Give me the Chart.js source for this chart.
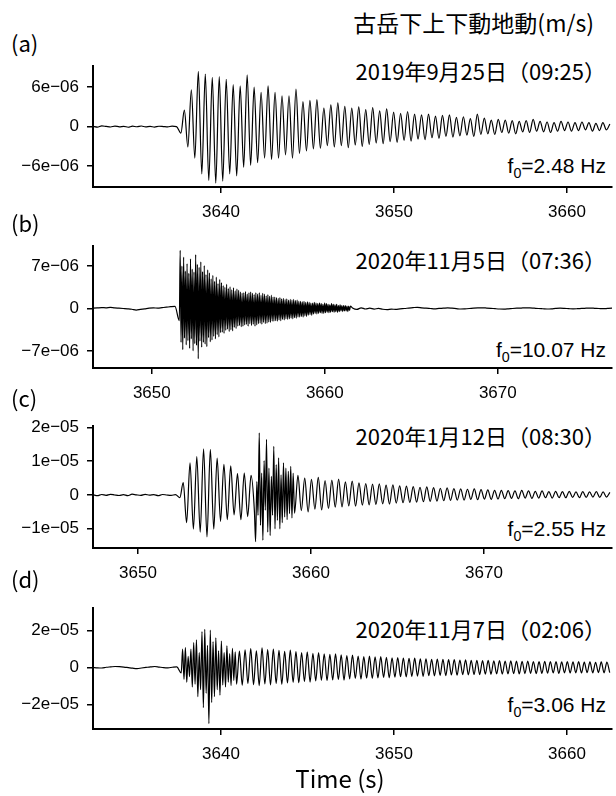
<!DOCTYPE html>
<html lang="ja">
<head>
<meta charset="utf-8">
<title>古岳下上下動地動</title>
<script src="https://cdn.jsdelivr.net/npm/chart.js@4.4.1/dist/chart.umd.min.js"></script>
<style>
  body { margin: 0; background: #fff; }
  #fig { position: relative; width: 616px; height: 796px; overflow: hidden; }
  canvas { position: absolute; left: 0; }
  .txt { position: absolute; white-space: nowrap; color: #000; line-height: 1; transform: translateY(-50%); }
  .jp { font-family: 'Noto Sans CJK JP', sans-serif; }
  .lat { font-family: 'Liberation Sans', Arial, sans-serif; }
  .r { right: 10px; }
  sub { font-size: 0.68em; vertical-align: -0.4em; line-height: 0; }
</style>
</head>
<body>
<div id="fig">
  <div class="txt jp" style="right:22px; top:22px; font-size:23px;">古岳下上下動地動(m/s)</div>

  <div class="txt jp" style="left:11px; top:42px; font-size:22px;">(a)</div>
  <div class="txt jp r" style="top:70px; font-size:22px;">2019年9月25日（09:25）</div>
  <div class="txt lat r" style="top:165px; font-size:21px;">f<sub>0</sub>=2.48 Hz</div>
  <canvas id="chartA" width="616" height="179" style="top:48px"></canvas>

  <div class="txt jp" style="left:11px; top:222px; font-size:22px;">(b)</div>
  <div class="txt jp r" style="top:259px; font-size:22px;">2020年11月5日（07:36）</div>
  <div class="txt lat r" style="top:349px; font-size:21px;">f<sub>0</sub>=10.07 Hz</div>
  <canvas id="chartB" width="616" height="180" style="top:228px"></canvas>

  <div class="txt jp" style="left:11px; top:397px; font-size:22px;">(c)</div>
  <div class="txt jp r" style="top:435px; font-size:22px;">2020年1月12日（08:30）</div>
  <div class="txt lat r" style="top:528px; font-size:21px;">f<sub>0</sub>=2.55 Hz</div>
  <canvas id="chartC" width="616" height="180" style="top:408px"></canvas>

  <div class="txt jp" style="left:11px; top:578px; font-size:22px;">(d)</div>
  <div class="txt jp r" style="top:628px; font-size:22px;">2020年11月7日（02:06）</div>
  <div class="txt lat r" style="top:704px; font-size:21px;">f<sub>0</sub>=3.06 Hz</div>
  <canvas id="chartD" width="616" height="179" style="top:590px"></canvas>

  <div class="txt jp" style="left:340px; top:778px; font-size:24px; transform:translate(-50%,-50%);">Time (s)</div>
</div>

<script>
// amplitudes are in 1e-6 m/s; swings are alternating extremes, one per half period

// (a) 2019-09-25, f0 = 2.48 Hz
const aTicksX = [3640, 3650, 3660];
const aTicksY = [-6e-6, 0, 6e-6];
const aLabelsY = ['−6e−06', '0', '6e−06'];
const aStart = 3632.6;
const aOnset = 3637.68;
const aHalf = 0.2016;
const aNoise = [0.05, -0.08, 0.10, 0.02, -0.06, 0.08, -0.03, 0.04, -0.10, 0.06,
  -0.02, 0.09, -0.05, 0.03, -0.07, 0.05, 0.01, -0.04, 0.07, 0.0];
const aSwing = [-1.0, 2.5, -3.1, 5.6, -4.8, 8.4, -7.2, 8.0, -8.2, 7.5,
  -8.6, 7.6, -8.3, 7.2, -7.2, 6.4, -7.5, 6.2, -6.2, 7.9,
  -5.9, 6.0, -5.5, 5.2, -4.8, 6.2, -5.0, 5.2, -4.8, 4.7,
  -4.3, 4.7, -4.8, 5.7, -4.1, 3.8, -3.7, 4.0, -3.4, 4.1,
  -3.3, 2.8, -2.9, 3.3, -3.1, 3.6, -2.9, 3.1, -3.2, 2.8,
  -2.8, 3.0, -3.0, 2.6, -2.7, 2.9, -2.5, 2.4, -2.6, 2.7,
  -2.3, 2.2, -2.4, 2.0, -2.1, 2.3, -2.2, 1.9, -1.9, 1.8,
  -2.0, 1.9, -1.7, 1.6, -1.8, 1.7, -1.5, 1.8, -1.6, 1.4,
  -1.4, 1.5, -1.3, 1.2, -1.5, 1.9, -1.2, 1.3, -1.1, 1.0,
  -1.2, 1.1, -0.9, 1.0, -1.0, 0.9, -1.1, 0.8, -0.8, 0.9,
  -0.9, 1.1, -0.7, 0.8, -0.8, 0.7, -0.9, 0.6, -0.7, 0.8,
  -0.6, 0.7, -0.7, 0.6, -0.6, 0.7, -0.5, 0.6, -0.7, 0.5,
  -0.6, 0.6, -0.5, 0.4];

// (b) 2020-11-05, f0 = 10.07 Hz
const bTicksX = [3650, 3660, 3670];
const bTicksY = [-7e-6, 0, 7e-6];
const bLabelsY = ['−7e−06', '0', '7e−06'];
const bStart = 3646.6;
const bOnset = 3651.59;
const bHalf = 0.0497;
const bNoise = [0.05, 0.10, 0.15, 0.12, 0.18, 0.10, 0.05, 0.0, -0.05, -0.12,
  -0.25, -0.15, -0.05, 0.05, 0.10, 0.08, 0.15, 0.22, 0.30, 0.35];
const bSwing = [
  -2.0, 9.6, -5.6, 7.0, -6.8, 8.5, -4.9, 6.2, -6.0, 7.4,
  -5.3, 5.8, -6.6, 8.2, -5.0, 6.5, -7.0, 6.0, -5.8, 8.9,
  -6.1, 7.3, -8.3, 6.8, -5.4, 7.7, -6.4, 6.1, -5.6, 7.1,
  -5.9, 5.6, -6.3, 6.4, -4.8, 5.9, -5.5, 4.9, -5.2, 5.5,
  -4.6, 4.5, -5.0, 5.2, -4.3, 4.1, -4.7, 4.8, -4.0, 4.3,
  -3.9, 3.8, -4.1, 3.5, -3.6, 4.0, -3.4, 3.3, -3.8, 3.6,
  -3.5, 3.1, -3.7, 3.4, -3.1, 2.9, -3.3, 3.2, -2.9, 3.0,
  -2.8, 2.7, -3.0, 2.5, -2.9, 2.6, -2.7, 2.8, -2.6, 2.4,
  -2.9, 2.6, -2.5, 2.7, -2.8, 2.5, -2.6, 2.3, -2.9, 2.6,
  -2.7, 2.4, -2.5, 2.6, -2.4, 2.2, -2.6, 2.5, -2.3, 2.4,
  -2.5, 2.1, -2.4, 2.3, -2.2, 2.0, -2.3, 2.2, -2.1, 1.9,
  -2.1, 1.9, -2.0, 1.8, -2.1, 1.7, -1.9, 1.8, -2.0, 1.6,
  -1.8, 1.7, -1.9, 1.5, -1.7, 1.6, -1.8, 1.4, -1.7, 1.5,
  -1.6, 1.4, -1.7, 1.5, -1.5, 1.3, -1.6, 1.4, -1.4, 1.2,
  -1.4, 1.2, -1.3, 1.1, -1.4, 1.2, -1.2, 1.0, -1.3, 1.1,
  -1.1, 1.0, -1.0, 0.9, -1.1, 0.9, -0.9, 1.0, -0.8, 0.9,
  -0.9, 0.8, -0.8, 0.9, -0.7, 0.8, -0.8, 0.7, -0.8, 0.9,
  -0.7, 0.8, -0.6, 0.7, -0.7, 0.6, -0.6, 0.8, -0.5, 0.7,
  -0.6, 0.6, -0.5, 0.7, -0.6, 0.5, -0.5, 0.6, -0.4, 0.5,
  -0.5, 0.5, -0.4, 0.5, -0.4, 0.4, -0.5, 0.4, -0.3, 0.4];
const bTailStart = 3661.6;
const bTail = [0.10, -0.15, 0.12, -0.08, 0.05, -0.10, 0.02, -0.12, -0.18, -0.10,
  -0.15, -0.05, 0.0, 0.08, 0.15, 0.20, 0.12, 0.05, 0.0, -0.05,
  0.02, 0.05, 0.10, 0.05, -0.02, -0.08, -0.05, 0.0, 0.06, 0.10,
  0.12, 0.08, 0.03, -0.03, -0.08, -0.10, -0.06, 0.0, 0.05, 0.08,
  0.12, 0.10, 0.05, 0.0, -0.04, -0.08, -0.05, 0.02, 0.06, 0.03,
  -0.02, -0.06, -0.03, 0.02, 0.05, 0.08, 0.04, 0.0, -0.03, 0.02,
  0.05, 0.03];

// (c) 2020-01-12, f0 = 2.55 Hz, two arrivals
const cTicksX = [3650, 3660, 3670];
const cTicksY = [-1e-5, 0, 1e-5, 2e-5];
const cLabelsY = ['−1e−05', '0', '1e−05', '2e−05'];
const cStart = 3647.4;
const cOnset = 3652.42;
const cHalf = 0.196;
const cNoise = [0.1, -0.2, 0.15, -0.1, 0.2, 0.0, -0.15, 0.1, -0.2, 0.25,
  0.05, -0.1, 0.2, -0.05, 0.1, -0.2, 0.15, 0.0, -0.1, 0.1];
const cSwing = [-0.8, 3.7, -8.2, 9.5, -10.1, 11.4, -11.0, 13.7, -12.4, 13.5,
  -10.1, 10.9, -7.8, 9.1, -7.3, 8.6, -5.9, 6.3, -7.3, 6.5,
  -6.4, 5.8, -5.0];
const cBurstStart = 3656.8;
const cBurstHalf = 0.07;
const cBurst = [-13.8, 4.0, -6.0, 18.4, -9.0, 6.5, -13.4, 10.2, -4.5, 16.5,
  -11.0, 8.0, -12.0, 5.5, -6.0, 14.4, -10.0, 9.0, -7.5, 11.0,
  -10.0, 6.0, -8.2, 9.5, -6.5, 8.0, -7.3, 7.0, -5.5, 8.5,
  -6.8, 6.4];
const cCodaStart = 3659.05;
const cCoda = [-5.4, 5.8, -4.6, 5.0, -5.0, 4.6, -4.2, 5.2, -4.4, 4.3,
  -4.0, 4.4, -3.6, 4.7, -3.5, 3.9, -3.2, 4.1, -3.3, 3.6,
  -3.0, 3.4, -2.9, 3.2, -2.8, 3.3, -2.6, 2.9, -2.7, 3.0,
  -2.4, 2.7, -2.3, 2.6, -2.2, 2.5, -2.1, 2.3, -2.0, 2.4,
  -1.9, 2.2, -1.8, 2.0, -1.7, 2.1, -1.6, 1.9, -1.5, 1.8,
  -1.5, 1.7, -1.3, 1.8, -1.4, 1.6, -1.2, 1.5, -1.3, 1.4,
  -1.2, 1.4, -1.1, 1.3, -1.0, 1.2, -1.1, 1.4, -0.9, 1.2,
  -1.0, 1.1, -0.9, 1.2, -0.8, 1.0, -0.9, 1.1, -0.8, 1.0,
  -0.8, 1.1, -0.7, 0.9, -0.8, 1.0, -0.7, 0.9, -0.6, 1.0,
  -0.7, 0.9, -0.6, 0.8];

// (d) 2020-11-07, f0 = 3.06 Hz
const dTicksX = [3640, 3650, 3660];
const dTicksY = [-2e-5, 0, 2e-5];
const dLabelsY = ['−2e−05', '0', '2e−05'];
const dStart = 3632.6;
const dOnset = 3637.70;
const dNoise = [0.0, -0.2, -0.3, 0.1, 0.3, 0.5, 0.4, 0.2, -0.1, -0.4,
  -0.6, -0.3, 0.0, 0.3, 0.5, 0.2, -0.1, -0.2, 0.1, 0.3];
const dBurstHalf = 0.08;
const dBurst = [-3.0, 10.0, -6.4, 10.8, -8.0, 6.0, -5.0, 10.0, -10.6, 13.4,
  -9.0, 15.0, -15.8, 8.0, -12.0, 19.4, -21.8, 20.6, -14.0, 12.0,
  -30.4, 20.3, -19.0, 14.0, -15.8, 16.0, -12.0, 9.0, -15.0, 14.3,
  -9.5, 8.0, -10.6, 11.7, -8.0, 7.5, -9.8, 10.3, -7.0, 8.5];
const dCodaStart = 3640.9;
const dHalf = 0.1634;
const dCoda = [-9.0, 8.8, -9.6, 9.5, -8.7, 10.2, -9.3, 9.0, -9.8, 10.6, -8.9, 9.7,
  -9.4, 10.0, -8.6, 9.2, -9.1, 8.7, -8.4, 9.4, -8.0, 8.6, -8.3, 8.1,
  -7.7, 8.5, -7.9, 7.6, -7.3, 8.0, -7.0, 7.4, -7.2, 7.1, -6.8, 7.3,
  -6.6, 6.8, -6.9, 6.4, -6.2, 6.7, -6.0, 6.2, -6.3, 5.9, -5.8, 6.1,
  -5.9, 5.7, -5.6, 5.9, -5.4, 5.5, -5.6, 5.2, -5.3, 5.4, -5.0, 5.1,
  -5.1, 4.9, -4.8, 5.0, -4.7, 4.6, -4.8, 4.7, -4.5, 4.4, -4.6, 4.5,
  -4.3, 4.4, -4.4, 4.2, -4.1, 4.3, -4.2, 4.0, -3.9, 4.1, -4.0, 3.9,
  -3.8, 3.9, -3.9, 3.7, -3.6, 3.8, -3.7, 3.6, -3.5, 3.7, -3.6, 3.5,
  -3.5, 3.6, -3.4, 3.4, -3.5, 3.3, -3.3, 3.5, -3.2, 3.2, -3.3, 3.1,
  -3.2, 3.3, -3.1, 3.2, -3.0, 3.1, -3.2, 3.0, -2.9, 3.1, -3.0, 3.0,
  -2.9, 3.1, -3.0, 2.9, -2.8, 3.0, -2.9, 2.8, -2.8, 3.0, -2.9, 2.9, -2.8];

// turn a run of values into {x, y} points, spaced evenly from t0
function seg(t0, step, vals) {
  return vals.map((v, i) => ({ x: t0 + i * step, y: v * 1e-6 }));
}
// noise before onset is spread evenly over [start, onset)
function pre(start, onset, vals) {
  return seg(start, (onset - start) / vals.length, vals);
}

const tickFont = { family: "'Liberation Sans', Arial, sans-serif", size: 17 };

function makePanel(id, trace, xRange, yRange, xTicks, yTicks, yLabels) {
  return new Chart(document.getElementById(id), {
    type: 'line',
    data: {
      datasets: [{
        data: trace,
        borderColor: '#000',
        borderWidth: 1.2,
        pointRadius: 0,
        cubicInterpolationMode: 'monotone',
        fill: false
      }]
    },
    options: {
      responsive: false,
      animation: false,
      parsing: false,
      normalized: true,
      layout: { padding: { top: 12, right: 4, left: 0, bottom: 0 } },
      plugins: { legend: { display: false }, tooltip: { enabled: false } },
      scales: {
        x: {
          type: 'linear',
          min: xRange[0],
          max: xRange[1],
          afterBuildTicks: s => { s.ticks = xTicks.map(v => ({ value: v })); },
          afterFit: s => { s.height = 40; },
          grid: { drawOnChartArea: false, tickLength: 6, color: '#000', lineWidth: 1.5 },
          border: { color: '#000', width: 2 },
          ticks: { color: '#000', padding: 9, maxRotation: 0, autoSkip: false, font: tickFont,
                   callback: v => String(v) }
        },
        y: {
          type: 'linear',
          min: yRange[0],
          max: yRange[1],
          afterBuildTicks: s => { s.ticks = yTicks.map(v => ({ value: v })); },
          afterFit: s => { s.width = 93; },
          grid: { drawOnChartArea: false, tickLength: 6, color: '#000', lineWidth: 1.5 },
          border: { color: '#000', width: 2 },
          ticks: { color: '#000', padding: 8, autoSkip: false, font: tickFont,
                   callback: (v, i) => yLabels[i] }
        }
      }
    }
  });
}

makePanel('chartA',
  [...pre(aStart, aOnset, aNoise), ...seg(aOnset, aHalf, aSwing)],
  [aStart, 3662.6], [-9.2e-6, 9.2e-6], aTicksX, aTicksY, aLabelsY);

makePanel('chartB',
  [...pre(bStart, bOnset, bNoise), ...seg(bOnset, bHalf, bSwing), ...seg(bTailStart, 0.25, bTail)],
  [bStart, 3676.6], [-9.83e-6, 10.3e-6], bTicksX, bTicksY, bLabelsY);

makePanel('chartC',
  [...pre(cStart, cOnset, cNoise), ...seg(cOnset, cHalf, cSwing),
   ...seg(cBurstStart, cBurstHalf, cBurst), ...seg(cCodaStart, cHalf, cCoda)],
  [cStart, 3677.4], [-15.69e-6, 20.37e-6], cTicksX, cTicksY, cLabelsY);

makePanel('chartD',
  [...pre(dStart, dOnset, dNoise), ...seg(dOnset, dBurstHalf, dBurst), ...seg(dCodaStart, dHalf, dCoda)],
  [dStart, 3662.6], [-33.35e-6, 32.1e-6], dTicksX, dTicksY, dLabelsY);
</script>
</body>
</html>
